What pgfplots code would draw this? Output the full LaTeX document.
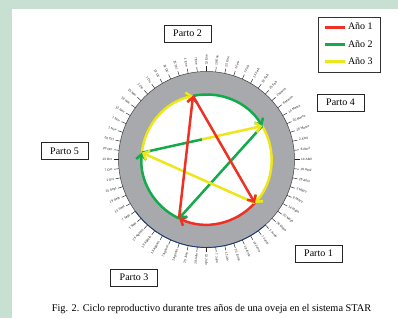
\documentclass[border=0pt]{standalone}
\usepackage{fontspec}
\setmainfont{Liberation Serif}
\setsansfont{Liberation Sans}
\usepackage{pgfplots}
\pgfplotsset{compat=1.18}
\usetikzlibrary{arrows.meta}
\definecolor{bggreen}{HTML}{C7E0D2}
\definecolor{ringgray}{HTML}{A7A9AC}
\definecolor{cred}{HTML}{EE3124}
\definecolor{cgreen}{HTML}{14A94A}
\definecolor{cyellow}{HTML}{EDE61A}
\definecolor{ringblue}{HTML}{1F3D7A}
\newcommand\dlab[1]{\ifcase#1 13 Oct\or 20 Oct\or 26 Oct\or 1 Nov\or 7 Nov\or 13 Nov\or 19 Nov\or 25 Nov\or 1 Dic\or 7 Dic\or 13 Dic\or 19 Dic\or 25 Dic\or 1 Ene\or 7 Ene\or 13 Ene\or 19 Ene\or 25 Ene\or 1 Feb\or 7 Feb\or 13 Feb\or 19 Feb\or 25 Feb\or 2 Marzo\or 8 Marzo\or 14 Marzo\or 20 Marzo\or 26 Marzo\or 2 Abril\or 8 Abril\or 14 Abril\or 20 Abril\or 26 Abril\or 2 Mayo\or 8 Mayo\or 14 Mayo\or 20 Mayo\or 26 Mayo\or 1 Junio\or 7 Junio\or 13 Junio\or 19 Junio\or 25 Junio\or 1 Julio\or 7 Julio\or 13 Julio\or 19 Julio\or 25 Julio\or 1 Agosto\or 7 Agosto\or 13 Agosto\or 19 Agosto\or 25 Agosto\or 1 Sept\or 7 Sept\or 13 Sept\or 19 Sept\or 25 Sept\or 1 Oct\or 7 Oct\fi}
\tikzset{tip/.style={-{Straight Barb[length=5pt,width=10pt]}}, lw/.style={line width=2.5pt}}
\begin{document}
\begin{tikzpicture}
\begin{axis}[
  x=1pt, y=1pt, disabledatascaling,
  xmin=0, xmax=398, ymin=0, ymax=318,
  at={(0,0)}, anchor=origin,
  hide axis, clip=false,
  legend style={at={(0.799,0.9465)}, anchor=north west, draw=black!80,
    font=\fontsize{10}{12}\selectfont, inner xsep=5pt, inner ysep=4pt,
    row sep=5pt, cells={anchor=west}},
  legend image code/.code={\draw[#1] (0pt,0pt) -- (20pt,0pt);},
]
% background
\fill[bggreen] (axis cs:0,0) rectangle (axis cs:398,318);
\fill[white] (axis cs:12,0) rectangle (axis cs:398,309);
% ring
\fill[ringgray, even odd rule] (axis cs:206.5,158.5) circle[radius=88] (axis cs:206.5,158.5) circle[radius=65];
\draw[black!75, line width=0.5pt] (axis cs:206.5,158.5) circle[radius=88];
\draw[ringblue, line width=0.9pt] (axis cs:{206.5+88*cos(216)},{158.5+88*sin(216)}) arc[start angle=216, end angle=312, radius=88];
% ticks and date labels
\pgfplotsinvokeforeach{0,...,59}{
  \draw[black!85, line width=0.45pt] (axis cs:{206.5+88*cos(180-6*#1)},{158.5+88*sin(180-6*#1)}) -- (axis cs:{206.5+93*cos(180-6*#1)},{158.5+93*sin(180-6*#1)});
}
\pgfplotsinvokeforeach{15,...,45}{
  \node[rotate={180-6*#1}, anchor=west, inner sep=0pt, text=black!85, font=\sffamily\fontsize{3.2}{4}\selectfont] at (axis cs:{206.5+94.5*cos(180-6*#1)},{158.5+94.5*sin(180-6*#1)}) {\dlab{#1}};
}
\pgfplotsinvokeforeach{0,...,14,46,47,...,59}{
  \node[rotate={-6*#1}, anchor=east, inner sep=0pt, text=black!85, font=\sffamily\fontsize{3.2}{4}\selectfont] at (axis cs:{206.5+94.5*cos(180-6*#1)},{158.5+94.5*sin(180-6*#1)}) {\dlab{#1}};
}
% arcs (angles in degrees on inner circle, radius 65)
\draw[cgreen, lw, tip] (axis cs:192.99,222.08) arc[start angle=102, end angle=31, radius=65];
\draw[cgreen, lw, tip] (axis cs:179.03,99.59) arc[start angle=245, end angle=174, radius=65];
\draw[cyellow, lw, tip] (axis cs:262.22,191.98) arc[start angle=31, end angle=-42, radius=65];
\draw[cyellow, lw, tip] (axis cs:141.86,165.29) arc[start angle=174, end angle=102, radius=65];
\draw[cred, lw, tip] (axis cs:254.80,115.01) arc[start angle=-42, end angle=-115, radius=65];
% chords
\addplot[forget plot, cgreen, lw, tip] coordinates {(262.22,191.98) (179.03,99.59)};
\addplot[forget plot, cgreen, lw] coordinates {(141.86,165.29) (202.04,178.64)};
\addplot[forget plot, cyellow, lw, tip] coordinates {(202.04,178.64) (262.22,191.98)};
\addplot[forget plot, cyellow, lw, tip] coordinates {(254.80,115.01) (141.86,165.29)};
\addplot[forget plot, cred, lw, tip] coordinates {(192.99,222.08) (254.80,115.01)};
\addplot[forget plot, cred, lw, tip] coordinates {(179.03,99.59) (192.99,222.08)};
% legend
\addlegendimage{cred, line width=2.8pt}
\addlegendentry{Año 1}
\addlegendimage{cgreen, line width=2.8pt}
\addlegendentry{Año 2}
\addlegendimage{cyellow, line width=2.8pt}
\addlegendentry{Año 3}
% boxes
\tikzset{pbox/.style={draw=black!85, fill=white, minimum width=47pt, minimum height=17pt, inner sep=0pt, font=\fontsize{10}{12}\selectfont}}
\node[pbox] at (axis cs:187.5,284.5) {Parto 2};
\node[pbox] at (axis cs:340.5,215.5) {Parto 4};
\node[pbox] at (axis cs:64.5,167) {Parto 5};
\node[pbox] at (axis cs:318.5,64.5) {Parto 1};
\node[pbox] at (axis cs:134,40.5) {Parto 3};
% caption
\node[font=\fontsize{10.3}{12}\selectfont] at (axis cs:211.5,9) {Fig. 2. Ciclo reproductivo durante tres años de una oveja en el sistema STAR};
\end{axis}
\end{tikzpicture}
\end{document}
